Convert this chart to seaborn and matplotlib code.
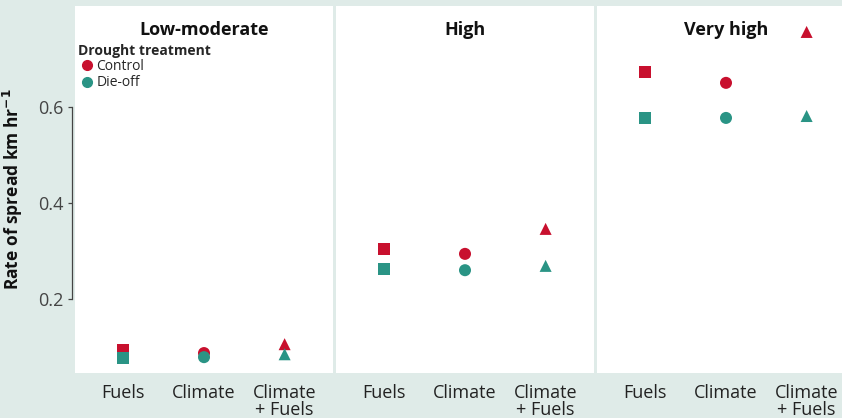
import pandas as pd
import matplotlib.pyplot as plt
import seaborn as sns

# --- DATA ---
panels = ['Low-moderate', 'High', 'Very high']
scenarios = ['Fuels', 'Climate', 'Climate\n+ Fuels']
control = [[0.094, 0.0875, 0.106],
           [0.304, 0.294, 0.346],
           [0.673, 0.650, 0.756]]
dieoff = [[0.077, 0.079, 0.085],
          [0.2625, 0.260, 0.269],
          [0.577, 0.577, 0.581]]

rows = []
for i, p in enumerate(panels):
    for j, s in enumerate(scenarios):
        rows.append({'panel': p, 'scenario': s, 'treatment': 'Control', 'ros': control[i][j]})
        rows.append({'panel': p, 'scenario': s, 'treatment': 'Die-off', 'ros': dieoff[i][j]})
df = pd.DataFrame(rows)

sns.set_theme(style="white")
plt.rcParams['font.family'] = ['Open Sans', 'DejaVu Sans']

bg = '#dfebe8'
palette = {'Control': '#c8102e', 'Die-off': '#2a9485'}
markers = {'Fuels': 's', 'Climate': 'o', 'Climate\n+ Fuels': '^'}

fig = plt.figure(figsize=(8.42, 4.18), dpi=100, facecolor=bg)

W, H = 842, 418
lefts = [75, 336, 597]
for k, p in enumerate(panels):
    ax = fig.add_axes([lefts[k] / W, 45 / H, 258 / W, 367 / H])
    sub = df[df['panel'] == p]
    sns.scatterplot(data=sub, x='scenario', y='ros', hue='treatment', style='scenario',
                    palette=palette, markers=markers, s=75, linewidth=0, ax=ax, legend=False)
    ax.set_xlim(-0.6, 2.6)
    ax.set_ylim(0.046, 0.81)
    ax.set_facecolor('white')
    ax.set_xlabel('')
    ax.set_ylabel('')
    ax.set_title(p, fontsize=13, fontweight='bold', pad=-21, y=1, color='#111111')
    for sp in ax.spines.values():
        sp.set_visible(False)
    ax.tick_params(axis='x', length=0, labelsize=13, pad=8, colors='#222222')
    ax.set_xticks(range(3))
    ax.set_xticklabels(scenarios, linespacing=0.9)
    if k == 0:
        ax.set_yticks([0.2, 0.4, 0.6])
        ax.set_yticklabels(['0.2', '0.4', '0.6'])
        ax.spines['left'].set_visible(True)
        ax.spines['left'].set_position(('outward', 2))
        ax.spines['left'].set_bounds(0.2, 0.6)
        ax.spines['left'].set_color('#444444')
        ax.spines['left'].set_linewidth(0.9)
        ax.tick_params(axis='y', left=True, length=3, width=0.9, color='#444444',
                       labelsize=13, pad=3, colors='#444444')
        ax.set_ylabel('Rate of spread km hr$^{\\mathbf{-1}}$', fontsize=12.5,
                      fontweight='bold', labelpad=10, color='#111111')
        # legend
        handles = [plt.Line2D([], [], marker='o', linestyle='', color=palette[t], markersize=7)
                   for t in ['Control', 'Die-off']]
        leg = ax.legend(handles, ['Control', 'Die-off'], title='Drought treatment',
                        loc='upper left', bbox_to_anchor=(-0.02, 0.92), frameon=False,
                        fontsize=10, title_fontsize=10, handletextpad=0.1,
                        labelspacing=0.1, borderaxespad=0.2, handlelength=1.2)
        leg.get_title().set_fontweight('bold')
        leg._legend_box.align = 'left'
    else:
        ax.set_yticks([])

fig.savefig('out.png', dpi=100, facecolor=bg)
